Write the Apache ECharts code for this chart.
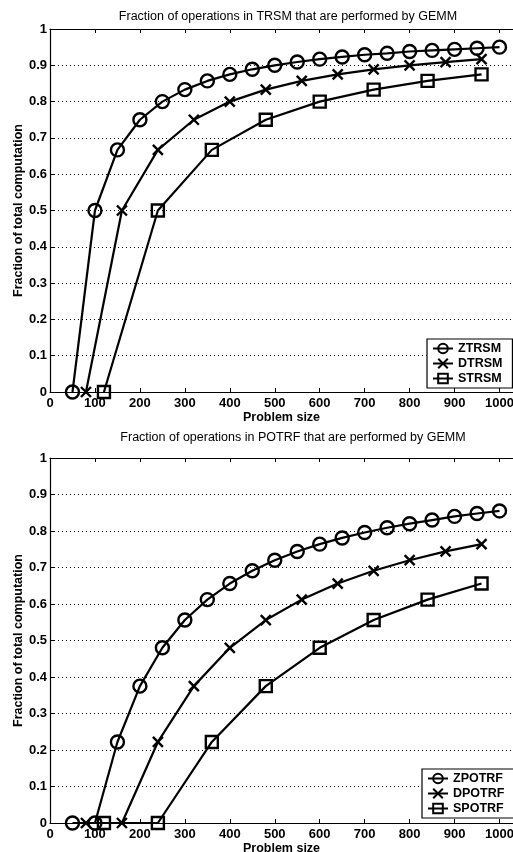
<!DOCTYPE html>
<html><head><meta charset="utf-8">
<script src="https://cdn.jsdelivr.net/npm/echarts@6/dist/echarts.min.js"></script>
<style>html,body{margin:0;padding:0;background:#fff}#c{width:513px;height:852px}</style>
</head><body><div id="c"></div>
<script>
// ---- data ----
const zSizes = [50,100,150,200,250,300,350,400,450,500,550,600,650,700,750,800,850,900,950,1000];
const dSizes = [80,160,240,320,400,480,560,640,720,800,880,960];
const sSizes = [120,240,360,480,600,720,840,960];
const ztrsm  = [0,0.5,0.667,0.75,0.8,0.833,0.857,0.875,0.889,0.9,0.909,0.917,0.923,0.929,0.933,0.938,0.941,0.944,0.947,0.95];
const dtrsm  = [0,0.5,0.667,0.75,0.8,0.833,0.857,0.875,0.889,0.9,0.909,0.917];
const strsm  = [0,0.5,0.667,0.75,0.8,0.833,0.857,0.875];
const zpotrf = [0,0,0.222,0.375,0.48,0.556,0.612,0.656,0.691,0.72,0.744,0.764,0.781,0.796,0.809,0.82,0.83,0.84,0.848,0.855];
const dpotrf = [0,0,0.222,0.375,0.48,0.556,0.612,0.656,0.691,0.72,0.744,0.764];
const spotrf = [0,0,0.222,0.375,0.48,0.556,0.612,0.656];
const titles = ['Fraction of operations in TRSM that are performed by GEMM','Fraction of operations in POTRF that are performed by GEMM'];
const legendTop = ['ZTRSM','DTRSM','STRSM'];
const legendBot = ['ZPOTRF','DPOTRF','SPOTRF'];
const xName = 'Problem size';
const yName = 'Fraction of total computation';

const FONT = '"Liberation Sans", Arial, sans-serif';
const pairs = (xs, ys) => xs.map((x, i) => [x, ys[i]]);
const XPATH = 'path://M0,0L10,10M10,0L0,10';

function xAxes(gi) {
  return [
    { gridIndex: gi, type: 'value', min: 0, max: 1030, interval: 100, position: 'bottom',
      name: xName, nameLocation: 'middle', nameGap: 19, nameMoveOverlap: false,
      nameTextStyle: { fontFamily: FONT, fontSize: 12.5, fontWeight: 'bold', color: '#000' },
      axisLine: { lineStyle: { color: '#000', width: 1.2 } },
      axisTick: { inside: true, length: 4, lineStyle: { color: '#000' } },
      axisLabel: { margin: 5, fontFamily: FONT, fontSize: 13, fontWeight: 'bold', color: '#000', formatter: v => String(v) },
      splitLine: { show: false } },
    { gridIndex: gi, type: 'value', min: 0, max: 1030, interval: 100, position: 'top',
      axisLine: { lineStyle: { color: '#000', width: 1.2 } },
      axisTick: { inside: true, length: 4, lineStyle: { color: '#000' } },
      axisLabel: { show: false }, splitLine: { show: false } }
  ];
}
function yAxis(gi) {
  return { gridIndex: gi, type: 'value', min: 0, max: 1, interval: 0.1,
    name: yName, nameLocation: 'middle', nameGap: 25, nameRotate: 90, nameMoveOverlap: false,
    nameTextStyle: { fontFamily: FONT, fontSize: 12.5, fontWeight: 'bold', color: '#000' },
    axisLine: { show: true, lineStyle: { color: '#000', width: 1.2 } },
    axisTick: { show: true, inside: true, length: 4, lineStyle: { color: '#000' } },
    axisLabel: { margin: 3, fontFamily: FONT, fontSize: 13, fontWeight: 'bold', color: '#000' },
    splitLine: { show: true, lineStyle: { color: '#000', type: [1, 3], width: 1 } } };
}
function ser(name, data, xi, yi, symbol, size) {
  return { name, type: 'line', xAxisIndex: xi, yAxisIndex: yi, data,
    symbol, symbolSize: size, showAllSymbol: true, animation: false,
    lineStyle: { color: '#000', width: 2.2 },
    itemStyle: { color: 'transparent', borderColor: '#000', borderWidth: 2.4 } };
}
function legend(names, left, top) {
  return { data: names, orient: 'vertical', left, top, itemGap: 2, itemWidth: 20, itemHeight: 12,
    padding: [3, 10, 3, 5], borderColor: '#000', borderWidth: 1.2, backgroundColor: '#fff', borderRadius: 0,
    textStyle: { fontFamily: FONT, fontSize: 12.5, fontWeight: 'bold', color: '#000' } };
}

const chart = echarts.init(document.getElementById('c'), null, { renderer: 'canvas' });
chart.setOption({
  backgroundColor: '#fff',
  animation: false,
  title: [
    { text: titles[0], left: 283, top: 5, textAlign: 'center', textStyle: { fontFamily: FONT, fontSize: 12.5, fontWeight: 'normal', color: '#000' } },
    { text: titles[1], left: 288, top: 426, textAlign: 'center', textStyle: { fontFamily: FONT, fontSize: 12.5, fontWeight: 'normal', color: '#000' } }
  ],
  legend: [ legend(legendTop, 427, 339), legend(legendBot, 422, 769) ],
  grid: [
    { left: 50, right: 0, top: 29, height: 363, containLabel: false, outerBoundsMode: 'none' },
    { left: 50, right: 0, top: 458, height: 365, containLabel: false, outerBoundsMode: 'none' }
  ],
  xAxis: [...xAxes(0), ...xAxes(1)],
  yAxis: [yAxis(0), yAxis(1)],
  series: [
    ser('ZTRSM', pairs(zSizes, ztrsm), 0, 0, 'circle', 13),
    ser('DTRSM', pairs(dSizes, dtrsm), 0, 0, XPATH, 10),
    ser('STRSM', pairs(sSizes, strsm), 0, 0, 'rect', 12),
    ser('ZPOTRF', pairs(zSizes, zpotrf), 2, 1, 'circle', 13),
    ser('DPOTRF', pairs(dSizes, dpotrf), 2, 1, XPATH, 10),
    ser('SPOTRF', pairs(sSizes, spotrf), 2, 1, 'rect', 12)
  ]
});
</script></body></html>
